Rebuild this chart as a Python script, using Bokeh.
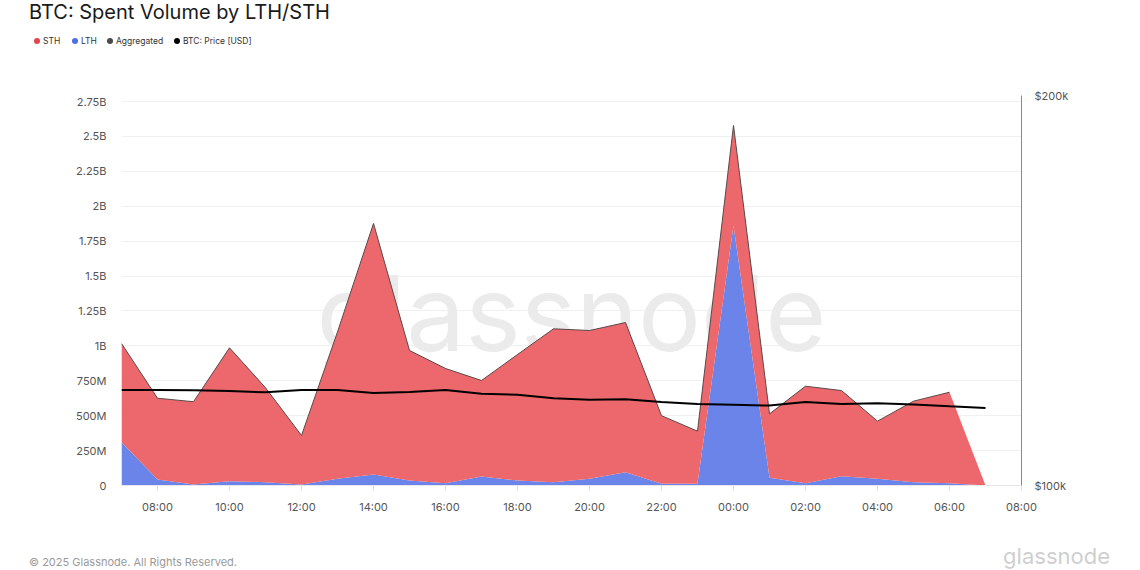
import pandas as pd
from bokeh.plotting import figure
from bokeh.layouts import column
from bokeh.models import (ColumnDataSource, Range1d, LinearAxis, FixedTicker,
                          DatetimeTickFormatter, Div)
from bokeh.core.properties import value
from bokeh.embed import file_html
from bokeh.resources import INLINE

# ---------------- data ----------------
hours = pd.date_range("2025-08-14 07:00", periods=25, freq="h")

# LTH spent volume (USD)
lth = [310e6, 43e6, 8e6, 31e6, 24e6, 8e6, 48e6, 79e6, 36e6, 17e6, 64e6, 36e6,
       24e6, 48e6, 95e6, 12e6, 12e6, 1862e6, 55e6, 17e6, 67e6, 48e6, 24e6, 17e6, 0]
# STH spent volume (USD)
sth = [707e6, 582e6, 592e6, 955e6, 676e6, 350e6, 1052e6, 1798e6, 931e6, 821e6,
       688e6, 902e6, 1098e6, 1062e6, 1072e6, 488e6, 377e6, 717e6, 458e6, 694e6,
       613e6, 413e6, 580e6, 651e6, 0]
# Aggregated spent volume (USD); last hour not yet reported
aggregated = [1017e6, 625e6, 600e6, 986e6, 700e6, 358e6, 1100e6, 1877e6, 967e6,
              838e6, 752e6, 938e6, 1122e6, 1110e6, 1167e6, 500e6, 389e6, 2579e6,
              513e6, 711e6, 680e6, 461e6, 604e6, 668e6, float("nan")]
# BTC price (USD)
price = [124500, 124500, 124400, 124200, 123900, 124500, 124500, 123700, 124000,
         124500, 123500, 123300, 122400, 122000, 122100, 121400, 120900, 120700,
         120500, 121400, 120900, 121100, 120800, 120300, 119900]

y_ticks = [0, 250e6, 500e6, 750e6, 1000e6, 1250e6, 1500e6, 1750e6, 2000e6,
           2250e6, 2500e6, 2750e6]
y_tick_labels = ["0", "250M", "500M", "750M", "1B", "1.25B", "1.5B", "1.75B",
                 "2B", "2.25B", "2.5B", "2.75B"]
price_ticks = [100000, 200000]
price_tick_labels = ["$100k", "$200k"]
x_ticks = pd.date_range("2025-08-14 08:00", "2025-08-15 08:00", freq="2h")

legend_names = ["STH", "LTH", "Aggregated", "BTC: Price [USD]"]
legend_colors = ["#E4434F", "#4B6FE5", "#4a4a4a", "#000000"]
title_text = "BTC: Spent Volume by LTH/STH"
footer_text = "© 2025 Glassnode. All Rights Reserved."
logo_text = "glassnode"

# ---------------- styles ----------------
RED = "#EC686D"
BLUE = "#6A84EA"
FONT = "Inter"
W = 1140
TOP_H, MAIN_H, FOOT_H = 60, 480, 30

# ---------------- header: title + legend ----------------
leg_x = [37, 75, 110, 177]
parts = [f'<div style="position:absolute;left:29px;top:0px;font-size:20px;'
         f'line-height:24px;color:#1a1a1a;white-space:nowrap;">{title_text}</div>']
for name, c, x in zip(legend_names, legend_colors, leg_x):
    parts.append(f'<div style="position:absolute;left:{x - 3}px;top:38px;width:6px;'
                 f'height:6px;border-radius:3px;background:{c};"></div>')
    parts.append(f'<div style="position:absolute;left:{x + 6}px;top:35px;'
                 f'font-size:8.5px;line-height:12px;color:#333333;'
                 f'white-space:nowrap;">{name}</div>')
header = Div(text=f'<div style="position:relative;width:{W}px;height:{TOP_H}px;'
                  f'font-family:{FONT};">' + "".join(parts) + '</div>',
             width=W, height=TOP_H, margin=0)

# ---------------- main chart ----------------
src = ColumnDataSource(dict(t=hours, lth=lth, sth=sth, agg=aggregated, price=price))

x_start = pd.Timestamp("2025-08-14 07:00")
x_end = pd.Timestamp("2025-08-15 08:00")

p = figure(width=W, height=MAIN_H, output_backend="svg", toolbar_location=None,
           x_axis_type="datetime",
           x_range=Range1d(x_start, x_end),
           y_range=Range1d(0, 2.75e9 * 390 / 384),
           min_border_left=121, min_border_right=119,
           min_border_top=35, min_border_bottom=55, margin=0)
p.outline_line_color = None
p.extra_y_ranges = {"price": Range1d(100000, 200000)}

p.xgrid.grid_line_color = None
p.ygrid.ticker = FixedTicker(ticks=y_ticks)
p.ygrid.grid_line_color = "#f0f0f0"

ya = p.yaxis[0]
ya.ticker = FixedTicker(ticks=y_ticks)
ya.major_label_overrides = {k: v for k, v in zip(y_ticks, y_tick_labels)}
ya.axis_line_color = None
ya.major_tick_line_color = None
ya.minor_tick_line_color = None
ya.major_tick_out = 0
ya.major_label_standoff = 15
ya.major_label_text_font = FONT
ya.major_label_text_font_size = "11px"
ya.major_label_text_color = "#555555"

xa = p.xaxis[0]
xa.ticker = FixedTicker(ticks=[int(t.value // 10**6) for t in x_ticks])
xa.formatter = DatetimeTickFormatter(hours="%H:%M", hourmin="%H:%M", days="%H:%M",
                                     minutes="%H:%M", minsec="%H:%M")
xa.axis_line_color = "#e8e8e8"
xa.major_tick_line_color = "#e0e0e0"
xa.minor_tick_line_color = None
xa.major_tick_out = 5
xa.major_tick_in = 0
xa.major_label_standoff = 9
xa.major_label_text_font = FONT
xa.major_label_text_font_size = "11px"
xa.major_label_text_color = "#555555"

ra = LinearAxis(y_range_name="price", ticker=FixedTicker(ticks=price_ticks))
ra.major_label_overrides = {k: v for k, v in zip(price_ticks, price_tick_labels)}
ra.axis_line_color = "#8a8a8a"
ra.major_tick_line_color = None
ra.minor_tick_line_color = None
ra.major_tick_out = 0
ra.major_label_standoff = 13
ra.major_label_text_font = FONT
ra.major_label_text_font_size = "11px"
ra.major_label_text_color = "#555555"
p.add_layout(ra, "right")

# watermark
mid = x_start + (x_end - x_start) / 2
p.text(x=[mid], y=[1.239e9], text=[logo_text], text_font=value(FONT),
       text_font_size="105px", text_color="#ebebeb", text_align="center",
       text_baseline="alphabetic")

p.varea_stack(stackers=["lth", "sth"], x="t", color=[BLUE, RED], source=src)
p.line(x="t", y="agg", source=src, line_color="#5a4848", line_width=1)
p.line(x="t", y="price", source=src, y_range_name="price", line_color="#000000",
       line_width=2)

# ---------------- footer ----------------
footer = Div(text=f'<div style="position:relative;width:{W}px;height:{FOOT_H}px;'
                  f'font-family:{FONT};overflow:hidden;">'
                  f'<div style="position:absolute;left:29px;top:16px;font-size:11px;'
                  f'line-height:13px;color:#9a9a9a;white-space:nowrap;">{footer_text}</div>'
                  f'<div style="position:absolute;right:30px;top:3px;font-size:22px;'
                  f'line-height:26px;color:#cfcfcf;white-space:nowrap;">{logo_text}</div>'
                  '</div>',
             width=W, height=FOOT_H, margin=0)

layout = column(header, p, footer, spacing=0, margin=0)
open("out.html", "w").write(file_html(layout, INLINE))
